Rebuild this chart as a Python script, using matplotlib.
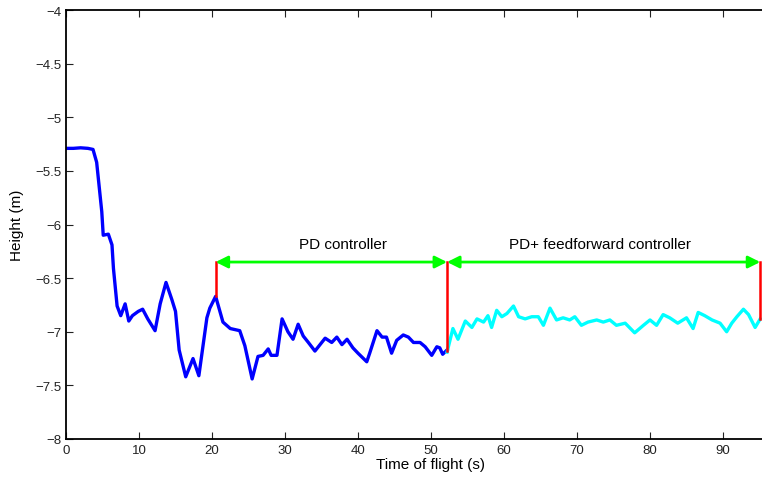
import matplotlib
matplotlib.use('Agg')
import matplotlib.pyplot as plt

plt.rcParams['font.family'] = ['Liberation Sans', 'DejaVu Sans']

# PD controller segment (blue)
t_pd = [0, 1, 2, 3, 3.7, 4.2, 4.9, 5.1, 5.8, 6.3, 6.5, 7.0, 7.5, 8.1, 8.6, 9.1,
        9.9, 10.5, 11.2, 12.2, 12.9, 13.7, 14.5, 15.0, 15.5, 16.4, 17.4, 18.2,
        19.3, 19.7, 20.5, 21.5, 22.5, 23.8, 24.5, 25.5, 26.3, 27.0, 27.7, 28.1,
        28.9, 29.6, 30.4, 31.1, 31.8, 32.5, 33.2, 34.1, 34.8, 35.5, 36.4, 37.1,
        37.8, 38.5, 39.3, 40.0, 41.2, 41.6, 42.6, 43.3, 43.9, 44.6, 45.3, 46.2,
        46.9, 47.6, 48.5, 49.2, 50.1, 50.8, 51.2, 51.6, 52.2]
h_pd = [-5.29, -5.29, -5.285, -5.29, -5.30, -5.42, -5.88, -6.10, -6.09, -6.19,
        -6.41, -6.76, -6.85, -6.74, -6.90, -6.85, -6.81, -6.79, -6.88, -6.99,
        -6.74, -6.54, -6.70, -6.81, -7.17, -7.42, -7.25, -7.41, -6.87, -6.78,
        -6.67, -6.91, -6.97, -6.99, -7.13, -7.44, -7.23, -7.22, -7.16, -7.22,
        -7.22, -6.88, -7.00, -7.07, -6.93, -7.04, -7.10, -7.18, -7.12, -7.06,
        -7.10, -7.05, -7.12, -7.07, -7.15, -7.20, -7.28, -7.20, -6.99, -7.05,
        -7.05, -7.20, -7.08, -7.03, -7.05, -7.10, -7.10, -7.14, -7.22, -7.14,
        -7.15, -7.21, -7.17]

# PD + feedforward segment (cyan)
t_ff = [52.2, 53.0, 53.7, 54.7, 55.6, 56.3, 57.2, 57.8, 58.3, 59.0, 59.7, 60.4,
        61.3, 62.0, 62.9, 63.8, 64.7, 65.4, 66.3, 67.2, 68.1, 69.0, 69.7, 70.6,
        71.5, 72.7, 73.6, 74.5, 75.4, 76.6, 77.9, 79.1, 80.0, 80.9, 81.8, 82.7,
        83.8, 85.0, 85.9, 86.6, 87.5, 88.5, 89.6, 90.5, 91.2, 91.9, 92.8, 93.5,
        94.4, 95.1]
h_ff = [-7.19, -6.97, -7.07, -6.90, -6.96, -6.88, -6.91, -6.85, -6.96, -6.80,
        -6.86, -6.83, -6.76, -6.86, -6.88, -6.86, -6.86, -6.94, -6.78, -6.89,
        -6.87, -6.89, -6.86, -6.94, -6.91, -6.89, -6.91, -6.89, -6.94, -6.92,
        -7.01, -6.94, -6.89, -6.94, -6.84, -6.87, -6.92, -6.87, -6.97, -6.82,
        -6.85, -6.89, -6.92, -7.00, -6.92, -6.86, -6.79, -6.84, -6.96, -6.88]

# phase markers
t_marks = [20.5, 52.2, 95.1]
h_marks_low = [-6.67, -7.18, -6.88]
arrow_h = -6.35
labels = ['PD controller', 'PD+ feedforward controller']
label_t = [38.0, 73.1]

fig = plt.figure(figsize=(7.62, 4.85), dpi=100)
# axes run past the right edge of the picture (cropped like the original)
ax = fig.add_axes([66 / 762, 45 / 485, 730 / 762, 429 / 485])

ax.plot(t_pd, h_pd, color='#0000ff', lw=2.4, solid_joinstyle='round')
ax.plot(t_ff, h_ff, color='#00ffff', lw=2.4, solid_joinstyle='round')

for t, lo in zip(t_marks, h_marks_low):
    ax.plot([t, t], [lo, arrow_h], color='#ff0000', lw=1.8)

for i in range(2):
    ax.annotate('', xy=(t_marks[i + 1], arrow_h), xytext=(t_marks[i], arrow_h),
                arrowprops=dict(arrowstyle='<|-|>', color='#00ff00', lw=2,
                                mutation_scale=18, shrinkA=0, shrinkB=0))
    ax.text(label_t[i], arrow_h + 0.1, labels[i], ha='center', va='bottom',
            fontsize=11)

ax.set_xlim(0, 100)
ax.set_ylim(-8, -4)
ax.set_xticks(range(0, 91, 10))
ax.set_yticks([-8, -7.5, -7, -6.5, -6, -5.5, -5, -4.5, -4])
ax.set_yticklabels(['\u22128', '\u22127.5', '\u22127', '\u22126.5', '\u22126',
                    '\u22125.5', '\u22125', '\u22124.5', '\u22124'])
ax.tick_params(direction='in', top=True, right=True, labelsize=9.5, length=5,
               colors='#222222')
for s in ax.spines.values():
    s.set_linewidth(1.3)
ax.set_xlabel('Time of flight (s)', fontsize=11, labelpad=1)
ax.set_ylabel('Height (m)', fontsize=11, labelpad=8)

fig.savefig('out.png', dpi=100)
